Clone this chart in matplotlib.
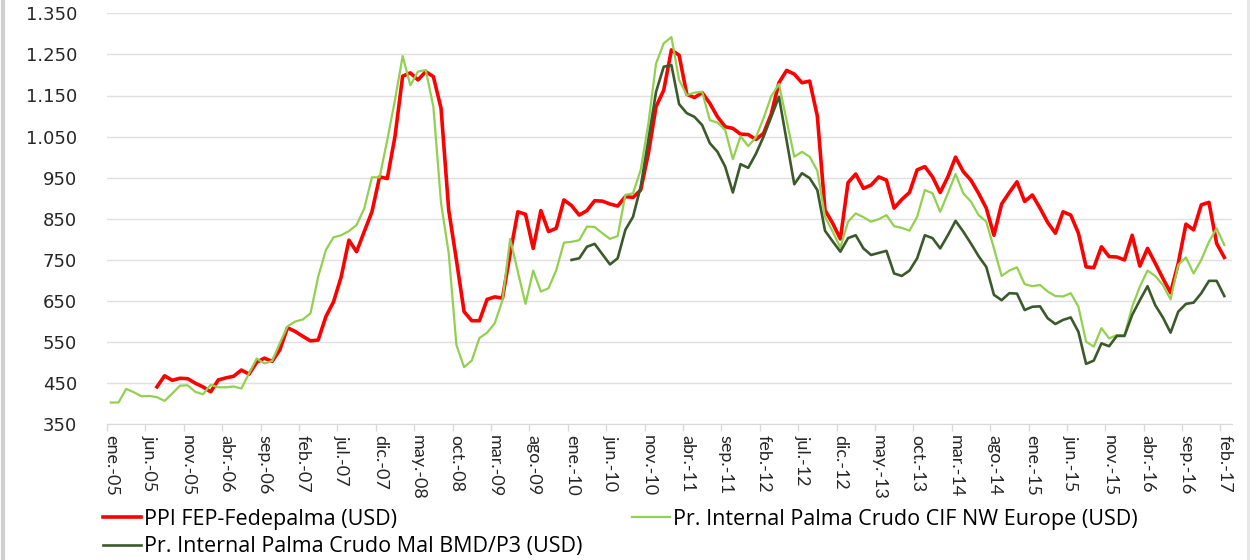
import matplotlib.pyplot as plt
from matplotlib.lines import Line2D
import matplotlib.transforms as mtransforms
import numpy as np

nan = np.nan

# meses ene-05 ... feb-17
mes_nombres = ['ene', 'feb', 'mar', 'abr', 'may', 'jun', 'jul', 'ago', 'sep', 'oct', 'nov', 'dic']
anios = list(range(2005, 2018))
fechas = [f'{m}.-{a % 100:02d}' for a in anios for m in mes_nombres][:146]

ppi_fedepalma = [nan, nan, nan, nan, nan, nan,
                 441, 468, 457, 462, 461, 450, 441, 429, 458, 463, 467, 482, 472, 501,
                 511, 503, 531, 585, 576, 564, 553, 555, 612, 648, 709, 798, 770, 819,
                 867, 952, 948, 1050, 1197, 1205, 1188, 1208, 1196, 1119, 871, 750, 624, 602,
                 602, 654, 660, 657, 765, 867, 861, 778, 870, 819, 827, 896, 882, 859,
                 870, 894, 893, 886, 881, 904, 902, 920, 1009, 1123, 1163, 1261, 1248, 1153,
                 1145, 1157, 1131, 1098, 1074, 1070, 1056, 1055, 1043, 1058, 1105, 1181, 1211, 1202,
                 1181, 1185, 1100, 871, 839, 801, 938, 959, 924, 932, 952, 944, 876, 897,
                 914, 969, 977, 952, 914, 952, 1000, 965, 944, 912, 876, 810, 886, 914,
                 940, 892, 908, 876, 841, 815, 867, 859, 815, 733, 731, 782, 758, 757,
                 750, 810, 735, 778, 742, 705, 670, 742, 837, 823, 884, 890, 790, 756]

cif_nw_europe = [403, 403, 436, 428, 418, 419, 416, 407, 425, 444, 445, 429, 423, 446,
                 440, 440, 442, 437, 474, 510, 498, 504, 547, 588, 600, 605, 620, 709,
                 774, 805, 810, 820, 835, 875, 951, 951, 1042, 1139, 1246, 1175, 1208, 1212,
                 1123, 888, 766, 543, 489, 505, 560, 573, 596, 652, 801, 721, 643, 724,
                 673, 681, 725, 792, 794, 798, 831, 830, 815, 801, 808, 908, 912, 969,
                 1082, 1228, 1277, 1292, 1188, 1151, 1157, 1159, 1090, 1084, 1066, 995, 1051, 1027,
                 1048, 1095, 1148, 1178, 1090, 1001, 1013, 1001, 967, 855, 819, 780, 843, 863,
                 854, 843, 849, 859, 832, 828, 821, 855, 920, 912, 867, 912, 959, 912,
                 892, 859, 843, 778, 711, 724, 732, 691, 686, 689, 673, 662, 661, 669,
                 636, 551, 539, 584, 559, 567, 567, 636, 685, 724, 711, 689, 654, 738,
                 756, 717, 750, 794, 827, 786]

mal_bmd_p3 = [nan] * 60 + [
              750, 754, 782, 789, 764, 739, 754, 823, 855, 928, 1042, 1159, 1220, 1224,
              1129, 1107, 1098, 1078, 1034, 1013, 977, 914, 983, 974, 1008, 1050, 1098, 1147,
              1040, 934, 961, 949, 920, 821, 795, 770, 803, 810, 778, 762, 767, 772,
              717, 711, 724, 754, 810, 803, 778, 810, 845, 819, 790, 759, 733, 665,
              652, 669, 668, 628, 636, 637, 608, 594, 604, 610, 575, 497, 505, 547,
              540, 565, 565, 616, 652, 686, 640, 610, 573, 624, 643, 646, 669, 699,
              699, 662]

series_nombres = ['PPI FEP-Fedepalma (USD)',
                  'Pr. Internal Palma Crudo CIF NW Europe (USD)',
                  'Pr. Internal Palma Crudo Mal BMD/P3 (USD)']
y_ticks = list(range(350, 1351, 100))

x = np.arange(len(fechas))

fig = plt.figure(figsize=(12.5, 5.6), dpi=100)
ax = fig.add_axes([107 / 1250, 1 - 424.3 / 560, (1232 - 107) / 1250, (424.3 - 13.3) / 560])

l1, = ax.plot(x, ppi_fedepalma, color='#ff0000', lw=2.6, zorder=3, solid_joinstyle='round')
l2, = ax.plot(x, cif_nw_europe, color='#92d050', lw=1.6, zorder=4, solid_joinstyle='round')
l3, = ax.plot(x, mal_bmd_p3, color='#3b5a2b', lw=1.9, zorder=5, solid_joinstyle='round')

ax.set_xlim(-0.5, 146)
ax.set_ylim(350, 1350)

# grid horizontal gris claro
ax.set_yticks(y_ticks)
ax.set_yticklabels([f'{v:,}'.replace(',', '.') for v in y_ticks],
                   fontfamily='DejaVu Sans', fontsize=13, color='#262626')
ax.yaxis.grid(True, color='#e0e0e0', lw=1)
ax.tick_params(axis='y', length=0, pad=21.5)

ax.set_xticks(x[::5] - 0.5)
ax.set_xticklabels(fechas[::5], rotation=270, fontfamily='Lato', fontsize=13,
                   color='#262626', va='top')
ax.tick_params(axis='x', length=5, width=1, color='#d9d9d9', pad=3)
# etiquetas centradas en la categoria (medio mes a la derecha del tick)
off = mtransforms.ScaledTranslation(4 / 100, 0, fig.dpi_scale_trans)
for lab in ax.get_xticklabels():
    lab.set_transform(lab.get_transform() + off)
    lab.set_horizontalalignment('center')

for s in ['top', 'right', 'left']:
    ax.spines[s].set_visible(False)
ax.spines['bottom'].set_color('#d9d9d9')
ax.set_axisbelow(True)

leg_kw = dict(loc='upper left', frameon=False, prop={'family': 'Open Sans', 'size': 15.5},
              handlelength=1.75, handletextpad=0.15, labelspacing=0.3,
              borderaxespad=0, borderpad=0)
fig.legend([l1, l3], [series_nombres[0], series_nombres[2]],
           bbox_to_anchor=(103 / 1250, 1 - 509 / 560), **leg_kw)
fig.legend([l2], [series_nombres[1]],
           bbox_to_anchor=(632 / 1250, 1 - 509 / 560), **leg_kw)

# bordes laterales del grafico
fig.add_artist(Line2D([0.002, 0.002], [0, 1], color='#cfcfcf', lw=3, transform=fig.transFigure))
fig.add_artist(Line2D([0.998, 0.998], [0, 1], color='#e6e6e6', lw=2, transform=fig.transFigure))

plt.savefig('out.png', dpi=100)
